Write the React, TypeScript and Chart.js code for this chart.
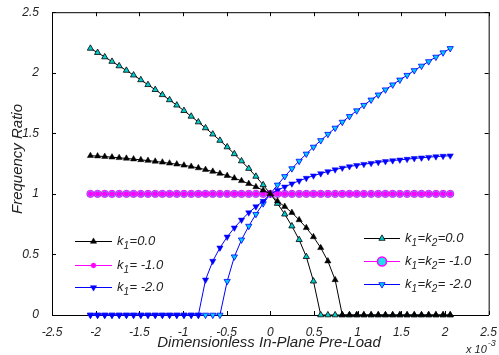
import React, { useEffect, useRef } from 'react';
import { Chart, registerables } from 'chart.js';

Chart.register(...registerables);

const FONT = '"Liberation Sans", Arial, Helvetica, sans-serif';

// Dimensionless in-plane pre-load (x 10^-3)
const preLoad = [
  -2.06, -1.978, -1.896, -1.813, -1.731, -1.648, -1.566, -1.483, -1.401, -1.318,
  -1.236, -1.154, -1.071, -0.989, -0.906, -0.824, -0.742, -0.659, -0.577, -0.494,
  -0.412, -0.33, -0.247, -0.165, -0.082, 0, 0.082, 0.165, 0.247, 0.33,
  0.412, 0.494, 0.577, 0.659, 0.742, 0.824, 0.906, 0.989, 1.071, 1.154,
  1.236, 1.318, 1.401, 1.483, 1.566, 1.648, 1.731, 1.813, 1.896, 1.978, 2.06,
];

// k1 = 0.0
const k1_0 = [
  1.315, 1.312, 1.308, 1.303, 1.298, 1.293, 1.287, 1.281, 1.275, 1.268,
  1.261, 1.253, 1.245, 1.236, 1.226, 1.214, 1.2, 1.185, 1.168, 1.15,
  1.13, 1.108, 1.084, 1.058, 1.03, 1, 0.94, 0.895, 0.845, 0.785,
  0.72, 0.645, 0.555, 0.445, 0.29, 0, 0, 0, 0, 0,
  0, 0, 0, 0, 0, 0, 0, 0, 0, 0, 0,
];

// k1 = -1.0
const k1_m1 = [
  1, 1, 1, 1, 1, 1, 1, 1, 1, 1, 1, 1, 1, 1, 1, 1, 1, 1, 1, 1, 1, 1, 1, 1, 1,
  1, 1, 1, 1, 1, 1, 1, 1, 1, 1, 1, 1, 1, 1, 1, 1, 1, 1, 1, 1, 1, 1, 1, 1, 1, 1,
];

// k1 = -2.0
const k1_m2 = [
  0, 0, 0, 0, 0, 0, 0, 0, 0, 0, 0, 0, 0, 0, 0, 0,
  0.29, 0.445, 0.555, 0.645, 0.72, 0.785, 0.845, 0.895, 0.94, 1,
  1.03, 1.058, 1.084, 1.108, 1.13, 1.15, 1.168, 1.185, 1.2, 1.214,
  1.226, 1.236, 1.245, 1.253, 1.261, 1.268, 1.275, 1.281, 1.287, 1.293,
  1.298, 1.303, 1.308, 1.312, 1.315,
];

// k1 = k2 = 0.0
const k12_0 = [
  2.201, 2.166, 2.13, 2.093, 2.056, 2.019, 1.98, 1.941, 1.901, 1.86,
  1.818, 1.776, 1.732, 1.687, 1.64, 1.593, 1.544, 1.493, 1.441, 1.387,
  1.33, 1.271, 1.209, 1.144, 1.074, 1, 0.92, 0.832, 0.734, 0.621,
  0.481, 0.279, 0, 0, 0, 0, 0, 0, 0, 0,
  0, 0, 0, 0, 0, 0, 0, 0, 0, 0, 0,
];

// k1 = k2 = -1.0
const k12_m1 = [
  1, 1, 1, 1, 1, 1, 1, 1, 1, 1, 1, 1, 1, 1, 1, 1, 1, 1, 1, 1, 1, 1, 1, 1, 1,
  1, 1, 1, 1, 1, 1, 1, 1, 1, 1, 1, 1, 1, 1, 1, 1, 1, 1, 1, 1, 1, 1, 1, 1, 1, 1,
];

// k1 = k2 = -2.0
const k12_m2 = [
  0, 0, 0, 0, 0, 0, 0, 0, 0, 0, 0, 0, 0, 0, 0, 0, 0, 0, 0,
  0.279, 0.481, 0.621, 0.734, 0.832, 0.92, 1, 1.074, 1.144, 1.209, 1.271,
  1.33, 1.387, 1.441, 1.493, 1.544, 1.593, 1.64, 1.687, 1.732, 1.776,
  1.818, 1.86, 1.901, 1.941, 1.98, 2.019, 2.056, 2.093, 2.13, 2.166, 2.201,
];

const xTicks = [-2.5, -2, -1.5, -1, -0.5, 0, 0.5, 1, 1.5, 2, 2.5];
const yTicks = [0, 0.5, 1, 1.5, 2, 2.5];

const xTitle = 'Dimensionless In-Plane Pre-Load';
const yTitle = 'Frequency Ratio';

type Part = [string, boolean];
const leftLegend: { parts: Part[]; ds: number }[] = [
  { parts: [['k', false], ['1', true], ['=0.0', false]], ds: 0 },
  { parts: [['k', false], ['1', true], ['= -1.0', false]], ds: 1 },
  { parts: [['k', false], ['1', true], ['= -2.0', false]], ds: 2 },
];
const rightLegend: { parts: Part[]; ds: number }[] = [
  { parts: [['k', false], ['1', true], ['=k', false], ['2', true], ['=0.0', false]], ds: 3 },
  { parts: [['k', false], ['1', true], ['=k', false], ['2', true], ['= -1.0', false]], ds: 4 },
  { parts: [['k', false], ['1', true], ['=k', false], ['2', true], ['= -2.0', false]], ds: 5 },
];

const pts = (ys: number[]) => preLoad.map((x, i) => ({ x, y: ys[i] }));

function drawMarker(
  ctx: CanvasRenderingContext2D,
  style: string,
  rot: number,
  x: number,
  y: number,
  r: number,
  fill: string,
  stroke: string,
  lw: number
) {
  ctx.save();
  ctx.beginPath();
  if (style === 'circle') {
    ctx.arc(x, y, r, 0, Math.PI * 2);
  } else {
    const base = (rot * Math.PI) / 180;
    for (let k = 0; k < 3; k++) {
      const a = base + (k * 2 * Math.PI) / 3;
      const px = x + Math.sin(a) * r;
      const py = y - Math.cos(a) * r;
      if (k === 0) ctx.moveTo(px, py);
      else ctx.lineTo(px, py);
    }
    ctx.closePath();
  }
  ctx.fillStyle = fill;
  ctx.fill();
  if (lw > 0) {
    ctx.strokeStyle = stroke;
    ctx.lineWidth = lw;
    ctx.stroke();
  }
  ctx.restore();
}

function drawParts(ctx: CanvasRenderingContext2D, parts: Part[], x: number, y: number, size: number) {
  let cx = x;
  ctx.save();
  ctx.fillStyle = '#222';
  ctx.textBaseline = 'alphabetic';
  ctx.textAlign = 'left';
  for (const [t, sub] of parts) {
    ctx.font = `italic ${sub ? size - 3 : size}px ${FONT}`;
    ctx.fillText(t, cx, sub ? y + 4 : y);
    cx += ctx.measureText(t).width + (sub ? 0.5 : 0);
  }
  ctx.restore();
}

const decorPlugin = {
  id: 'decor',
  beforeDatasetsDraw(chart: any) {
    const { ctx, chartArea: a, scales } = chart;
    ctx.save();
    ctx.strokeStyle = '#000';
    ctx.lineWidth = 1;
    ctx.beginPath();
    ctx.moveTo(a.left, a.top + 0.5);
    ctx.lineTo(a.right + 0.5, a.top + 0.5);
    ctx.lineTo(a.right + 0.5, a.bottom);
    ctx.stroke();
    const tl = 4;
    ctx.beginPath();
    for (const v of xTicks) {
      const px = Math.round(scales.x.getPixelForValue(v)) + 0.5;
      ctx.moveTo(px, a.bottom);
      ctx.lineTo(px, a.bottom - tl);
      ctx.moveTo(px, a.top);
      ctx.lineTo(px, a.top + tl);
    }
    for (const v of yTicks) {
      const py = Math.round(scales.y.getPixelForValue(v)) + 0.5;
      ctx.moveTo(a.left, py);
      ctx.lineTo(a.left + tl, py);
      ctx.moveTo(a.right, py);
      ctx.lineTo(a.right - tl, py);
    }
    ctx.stroke();
    ctx.restore();
  },
  afterDraw(chart: any) {
    const { ctx, chartArea: a } = chart;
    ctx.save();
    ctx.fillStyle = '#222';
    // axis titles
    ctx.font = `italic 15px ${FONT}`;
    ctx.textAlign = 'center';
    ctx.textBaseline = 'middle';
    ctx.fillText(xTitle, 269, 343);
    ctx.save();
    ctx.translate(18, 159);
    ctx.rotate(-Math.PI / 2);
    ctx.fillText(yTitle, 0, 0);
    ctx.restore();
    // exponent
    ctx.textAlign = 'left';
    ctx.textBaseline = 'alphabetic';
    ctx.font = `italic 11px ${FONT}`;
    ctx.fillText('x 10', 466, 353);
    const w = ctx.measureText('x 10').width;
    ctx.font = `italic 9px ${FONT}`;
    ctx.fillText('-3', 466 + w + 1, 346);
    ctx.restore();

    // legends
    const dsets = chart.data.datasets;
    const drawEntry = (entry: { parts: Part[]; ds: number }, x0: number, x1: number, y: number) => {
      const d = dsets[entry.ds];
      ctx.save();
      ctx.strokeStyle = d.borderColor;
      ctx.lineWidth = d.borderWidth;
      ctx.beginPath();
      ctx.moveTo(x0, y + 0.5);
      ctx.lineTo(x1, y + 0.5);
      ctx.stroke();
      ctx.restore();
      const mx = (x0 + x1) / 2;
      if (entry.ds === 4) {
        drawMarker(ctx, 'circle', 0, mx, y + 0.5, 4.5, '#22ddee', '#ff00ff', 1.5);
      } else {
        drawMarker(ctx, d.pointStyle, d.rotation || 0, mx, y + 0.5, d.pointRadius, d.pointBackgroundColor, d.pointBorderColor, d.pointBorderWidth);
      }
      drawParts(ctx, entry.parts, x1 + 5, y + 4, 13);
    };
    const ly = [241, 265, 287];
    leftLegend.forEach((e, i) => drawEntry(e, 75, 112, ly[i]));
    const ry = [238, 261, 284];
    rightLegend.forEach((e, i) => drawEntry(e, 364, 400, ry[i]));
  },
};

export default function App() {
  const ref = useRef<HTMLCanvasElement | null>(null);
  useEffect(() => {
    if (!ref.current) return;
    const common = { showLine: true, fill: false, tension: 0, borderWidth: 1, pointHoverRadius: 0 };
    const chart = new Chart(ref.current, {
      type: 'line',
      data: {
        datasets: [
          {
            ...common,
            label: 'k1=0.0',
            data: pts(k1_0),
            borderColor: '#000000',
            pointStyle: 'triangle',
            rotation: 0,
            pointRadius: 3.6,
            pointBackgroundColor: '#000000',
            pointBorderColor: '#000000',
            pointBorderWidth: 0.5,
          },
          {
            ...common,
            label: 'k1=-1.0',
            data: pts(k1_m1),
            borderColor: '#ff00ff',
            pointStyle: 'circle',
            pointRadius: 2.4,
            pointBackgroundColor: '#ff00ff',
            pointBorderColor: '#ff00ff',
            pointBorderWidth: 0.5,
          },
          {
            ...common,
            label: 'k1=-2.0',
            data: pts(k1_m2),
            borderColor: '#0000ff',
            pointStyle: 'triangle',
            rotation: 180,
            pointRadius: 3.6,
            pointBackgroundColor: '#0000ff',
            pointBorderColor: '#0000ff',
            pointBorderWidth: 0.5,
          },
          {
            ...common,
            label: 'k1=k2=0.0',
            data: pts(k12_0),
            borderColor: '#000000',
            pointStyle: 'triangle',
            rotation: 0,
            pointRadius: 3.6,
            pointBackgroundColor: '#00cccc',
            pointBorderColor: '#000000',
            pointBorderWidth: 0.8,
          },
          {
            ...common,
            label: 'k1=k2=-1.0',
            data: pts(k12_m1),
            borderColor: '#ff00ff',
            pointStyle: 'circle',
            pointRadius: 3.6,
            pointBackgroundColor: '#22ddee',
            pointBorderColor: '#ff00ff',
            pointBorderWidth: 1,
          },
          {
            ...common,
            label: 'k1=k2=-2.0',
            data: pts(k12_m2),
            borderColor: '#0000ff',
            pointStyle: 'triangle',
            rotation: 180,
            pointRadius: 3.6,
            pointBackgroundColor: '#00ccff',
            pointBorderColor: '#0000ff',
            pointBorderWidth: 0.8,
          },
        ] as any,
      },
      options: {
        animation: false,
        responsive: false,
        clip: false as any,
        events: [],
        layout: { padding: { top: 8, right: 9, left: 0, bottom: 0 } },
        plugins: { legend: { display: false }, tooltip: { enabled: false } },
        scales: {
          x: {
            type: 'linear',
            min: -2.5,
            max: 2.5,
            afterBuildTicks: (s: any) => {
              s.ticks = xTicks.map((v) => ({ value: v }));
            },
            afterFit: (s: any) => {
              s.height = 40;
            },
            ticks: {
              padding: 2,
              color: '#222',
              maxRotation: 0,
              autoSkip: false,
              font: { family: FONT, size: 12, style: 'italic' },
              callback: (v: any) => String(Math.round(Number(v) * 10) / 10),
            },
            grid: { display: false },
            border: { display: true, color: '#000', width: 1 },
          },
          y: {
            type: 'linear',
            min: 0,
            max: 2.5,
            afterBuildTicks: (s: any) => {
              s.ticks = yTicks.map((v) => ({ value: v }));
            },
            afterFit: (s: any) => {
              s.width = 52;
            },
            ticks: {
              padding: 5,
              color: '#222',
              font: { family: FONT, size: 12, style: 'italic' },
              callback: (v: any) => String(Math.round(Number(v) * 10) / 10),
            },
            grid: { display: false },
            border: { display: true, color: '#000', width: 1 },
          },
        },
      } as any,
      plugins: [decorPlugin],
    });
    return () => chart.destroy();
  }, []);
  return (
    <div style={{ position: 'fixed', left: 0, top: 0, width: 499, height: 355, background: '#fff' }}>
      <canvas ref={ref} width={499} height={355} style={{ display: 'block' }} />
    </div>
  );
}
